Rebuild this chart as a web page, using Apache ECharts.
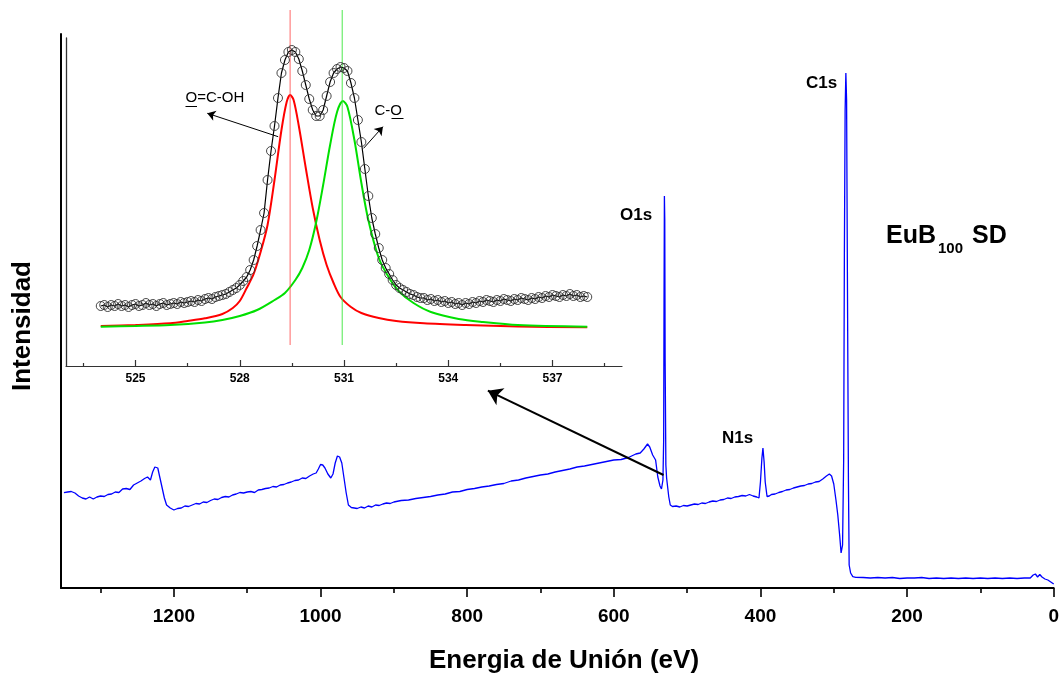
<!DOCTYPE html>
<html lang="es">
<head>
<meta charset="UTF-8">
<title>EuB100 SD - XPS</title>
<script src="https://cdn.jsdelivr.net/npm/echarts@6.0.0/dist/echarts.min.js"></script>
<style>
    html, body { margin: 0; padding: 0; background: #fff; }
    #main { width: 1062px; height: 679px; }
</style>
</head>
<body>
<div id="main"></div>
<script>
    // survey spectrum: [binding energy (eV), intensity (a.u.)]
    var surveyPoints = [
        [1350, 95.3], [1345, 96], [1340, 96.5], [1335, 95], [1330, 92], [1325, 90], [1320, 89], [1315, 91],
        [1310, 89], [1305, 91], [1300, 92], [1295, 91.5], [1290, 93.5], [1285, 94], [1280, 96], [1275, 95.5],
        [1270, 99], [1265, 99.5], [1260, 98.5], [1255, 103], [1250, 105], [1245, 107], [1240, 109.5], [1236, 111],
        [1232, 108], [1229, 116], [1226, 121], [1222, 120], [1219, 110], [1216, 100], [1213, 90], [1210, 83],
        [1205, 80], [1200, 78], [1195, 79.5], [1190, 80], [1185, 82], [1180, 81.5], [1175, 83], [1170, 84.5],
        [1165, 84], [1160, 86], [1155, 85.5], [1150, 87.5], [1145, 89], [1140, 88.5], [1135, 90.5], [1130, 91.5],
        [1125, 91], [1120, 93], [1115, 94], [1110, 95.5], [1105, 95], [1100, 96], [1095, 96.5], [1090, 95.5],
        [1085, 98], [1080, 98.5], [1075, 99.5], [1070, 100], [1065, 101.5], [1060, 101], [1055, 103], [1050, 103.5],
        [1045, 105], [1040, 106], [1035, 107.5], [1030, 108], [1025, 110], [1020, 109.5], [1015, 112], [1010, 114],
        [1006, 115], [1003, 119], [1000, 123.5], [997, 123], [994, 120], [990, 114], [986, 110], [983, 114],
        [980, 125], [977, 132], [974, 131], [971, 125], [968, 110], [965, 95], [962, 83], [958, 80.5],
        [954, 80], [950, 79.5], [945, 81], [940, 80], [935, 82], [930, 81], [925, 83], [920, 82.5],
        [915, 84], [910, 85], [905, 84.5], [900, 86], [890, 87.5], [880, 88], [870, 89.5], [860, 90.5],
        [850, 91.5], [840, 93], [830, 94], [820, 96], [810, 96.5], [800, 98.5], [790, 99.5], [780, 101],
        [770, 102], [760, 103.5], [750, 104.5], [740, 107], [730, 108], [720, 110], [710, 111.5], [700, 113],
        [690, 114], [680, 116], [670, 117.5], [660, 119], [650, 121], [640, 122], [630, 123.5], [620, 125],
        [610, 126.5], [600, 128], [590, 128.5], [580, 130.5], [570, 134], [564, 135], [559, 139], [554, 144],
        [551, 141], [547, 133], [543, 128], [540, 111], [537, 102], [535, 99], [533, 108], [532, 148],
        [531.5, 288], [531, 392], [530.5, 368], [530, 228], [529, 123], [528, 110], [527, 108], [525, 91],
        [523, 83], [520, 81.5], [515, 82], [510, 81], [505, 82.5], [500, 82], [495, 83], [490, 84],
        [485, 83.5], [480, 85], [475, 84.5], [470, 86], [465, 87], [460, 86.5], [455, 88], [450, 88.5],
        [445, 90], [440, 89.5], [435, 91], [430, 91.5], [425, 92.5], [420, 92], [415, 93.5], [410, 92],
        [405, 91], [402, 90], [400, 106], [398, 130], [396.6, 140], [395, 126], [393.5, 106], [391, 91.5],
        [388, 92], [385, 93.5], [380, 94], [375, 95.5], [370, 96.5], [365, 98], [360, 98.5], [355, 100],
        [350, 101], [345, 102], [340, 102.5], [335, 104], [330, 104.5], [325, 106], [320, 106.5], [315, 109],
        [310, 112], [306, 114], [303, 112], [300, 104], [297, 88], [294.5, 73], [292, 53], [290, 35],
        [288, 43], [286.5, 128], [285.5, 338], [284.5, 478], [283.5, 515], [282.5, 488], [281.5, 328], [280, 108],
        [279, 23], [277, 15], [274, 11.3], [270, 10.7], [260, 10.5], [250, 10], [240, 10.5], [230, 10],
        [220, 10.5], [210, 9.5], [200, 10], [190, 10], [180, 10.5], [170, 9.5], [160, 10], [150, 9.5],
        [140, 10], [130, 9.5], [120, 10], [110, 9.5], [100, 10], [90, 9.5], [80, 10], [70, 9.5],
        [60, 10], [50, 9.5], [40, 10], [32, 10], [28, 13], [25, 14], [22, 11], [19, 13.5],
        [16, 11], [12, 9], [8, 8], [4, 6], [0, 4]
    ];

    // O1s high resolution region, sampled every 0.1 eV from 524.0 eV
    var o1sStart = 524.0;
    var o1sStep = 0.1;
    var o1sCounts = [
        60, 61, 59, 61, 60, 62, 60, 61, 59, 61,
        62, 60, 61, 63, 61, 62, 60, 62, 63, 61,
        62, 63, 62, 64, 63, 64, 65, 64, 66, 65,
        67, 68, 67, 69, 70, 71, 72, 74, 76, 78,
        81, 85, 89, 96, 106, 120, 136, 153, 186, 215,
        240, 268, 293, 306, 314, 316, 314, 307, 295, 281,
        267, 256, 250, 250, 256, 270, 284, 293, 297, 299,
        298, 295, 283, 268, 246, 224, 197, 170, 148, 132,
        118, 106, 98, 92, 86, 81, 78, 76, 74, 72,
        71, 69, 68, 68, 66, 67, 65, 66, 64, 65,
        63, 64, 62, 63, 61, 63, 62, 64, 63, 65,
        64, 66, 65, 64, 66, 65, 67, 66, 65, 67,
        66, 68, 67, 66, 68, 67, 69, 68, 70, 69,
        71, 70, 69, 71, 70, 72, 70, 71, 69, 70,
        69
    ];

    // fitted components
    var fitOCOH = [
        [524.0, 40], [525.0, 41], [526.0, 42.7], [526.5, 45], [527.0, 47.7], [527.5, 52], [527.8, 58], [528.0, 65],
        [528.2, 78], [528.4, 92], [528.6, 114], [528.8, 141], [529.0, 186], [529.2, 236], [529.35, 264], [529.45, 271],
        [529.55, 266], [529.7, 240], [529.9, 198], [530.1, 158], [530.3, 126], [530.5, 101], [530.7, 83], [530.9, 69],
        [531.2, 59], [531.5, 53], [532.0, 48], [532.5, 45], [533.3, 42.7], [534.5, 41], [536.0, 39.5], [538.0, 38.7]
    ];
    var fitCO = [
        [524.0, 39.3], [525.0, 40], [526.0, 41], [527.0, 43.5], [527.5, 46], [528.0, 50], [528.5, 56], [529.0, 66],
        [529.3, 73], [529.6, 86], [529.8, 98], [530.0, 116], [530.2, 144], [530.4, 181], [530.6, 221], [530.8, 254],
        [530.97, 265], [531.1, 259], [531.3, 226], [531.5, 183], [531.7, 146], [532.0, 108], [532.3, 88], [532.6, 74],
        [533.0, 63], [533.5, 54], [534.3, 47], [535.0, 44], [536.0, 41], [538.0, 39.3]
    ];
    var peakCentres = [529.45, 530.95];
    var peakLineSpan = [21, 356];

    var mainMajor = [0, 200, 400, 600, 800, 1000, 1200];
    var mainMinor = [100, 300, 500, 700, 900, 1100, 1300];
    var insetMajor = [525, 528, 531, 534, 537];
    var insetMinor = [523.5, 526.5, 529.5, 532.5, 535.5, 538.5];

    var FONT = 'Liberation Sans, Arial, sans-serif';

    var o1sPoints = o1sCounts.map(function (v, i) {
        return [Number((o1sStart + i * o1sStep).toFixed(1)), v];
    });

    function vline(x) {
        return [[x, peakLineSpan[0]], [x, peakLineSpan[1]]];
    }

    function plain(v) {
        return String(v);
    }

    var chart = echarts.init(document.getElementById('main'));

    var option = {
        animation: false,
        backgroundColor: '#fff',
        grid: [
            {left: 61, right: 8, top: 34, bottom: 91},
            {left: 66, right: 440, top: 38, bottom: 313}
        ],
        xAxis: [
            {
                gridIndex: 0, type: 'value', min: 0, max: 1354, inverse: true, position: 'bottom',
                axisLine: {onZero: false, lineStyle: {color: '#000', width: 2}},
                axisTick: {customValues: mainMajor, length: 9, lineStyle: {color: '#000', width: 1.6}},
                axisLabel: {customValues: mainMajor, formatter: plain, margin: 19, fontSize: 19, fontWeight: 'bold', color: '#000', fontFamily: FONT},
                splitLine: {show: false}
            },
            {
                gridIndex: 0, type: 'value', min: 0, max: 1354, inverse: true, position: 'bottom',
                axisLine: {show: false, onZero: false},
                axisTick: {customValues: mainMinor, length: 5, lineStyle: {color: '#000', width: 1.6}},
                axisLabel: {show: false},
                splitLine: {show: false}
            },
            {
                gridIndex: 1, type: 'value', min: 523, max: 539, position: 'bottom',
                axisLine: {onZero: false, lineStyle: {color: '#333', width: 1.2}},
                axisTick: {customValues: insetMajor, inside: true, length: 6, lineStyle: {color: '#333', width: 1.2}},
                axisLabel: {customValues: insetMajor, formatter: plain, margin: 7, fontSize: 12, fontWeight: 'bold', color: '#000', fontFamily: FONT},
                splitLine: {show: false}
            },
            {
                gridIndex: 1, type: 'value', min: 523, max: 539, position: 'bottom',
                axisLine: {show: false, onZero: false},
                axisTick: {customValues: insetMinor, inside: true, length: 3, lineStyle: {color: '#333', width: 1.2}},
                axisLabel: {show: false},
                splitLine: {show: false}
            }
        ],
        yAxis: [
            {
                gridIndex: 0, type: 'value', min: 0, max: 554,
                axisLine: {show: true, onZero: false, lineStyle: {color: '#000', width: 2}},
                axisTick: {show: false}, axisLabel: {show: false}, splitLine: {show: false}
            },
            {
                gridIndex: 1, type: 'value', min: 0, max: 328,
                axisLine: {show: true, onZero: false, lineStyle: {color: '#333', width: 1.3}},
                axisTick: {show: false}, axisLabel: {show: false}, splitLine: {show: false}
            }
        ],
        series: [
            {
                name: 'survey', type: 'line', xAxisIndex: 0, yAxisIndex: 0,
                data: surveyPoints, showSymbol: false, symbol: 'none',
                lineStyle: {color: '#0000ff', width: 1.3}, itemStyle: {color: '#0000ff'},
                markLine: {
                    silent: true, symbol: ['none', 'arrow'], symbolSize: 14,
                    label: {show: false},
                    lineStyle: {color: '#000', width: 2, type: 'solid'},
                    data: [[{coord: [532.2, 113]}, {coord: [771.8, 197.3]}]]
                }
            },
            {
                name: 'O=C-OH', type: 'line', xAxisIndex: 2, yAxisIndex: 1,
                data: fitOCOH, symbol: 'none', smooth: 0.3,
                lineStyle: {color: '#ff0000', width: 2}, itemStyle: {color: '#ff0000'}
            },
            {
                name: 'C-O', type: 'line', xAxisIndex: 2, yAxisIndex: 1,
                data: fitCO, symbol: 'none', smooth: 0.3,
                lineStyle: {color: '#00e000', width: 2}, itemStyle: {color: '#00e000'}
            },
            {
                name: 'line1', type: 'line', xAxisIndex: 2, yAxisIndex: 1, clip: false,
                data: vline(peakCentres[0]), symbol: 'none',
                lineStyle: {color: 'rgba(255,60,60,0.6)', width: 1.3}
            },
            {
                name: 'line2', type: 'line', xAxisIndex: 2, yAxisIndex: 1, clip: false,
                data: vline(peakCentres[1]), symbol: 'none',
                lineStyle: {color: 'rgba(60,230,60,0.7)', width: 1.3}
            },
            {
                name: 'O1s', type: 'line', xAxisIndex: 2, yAxisIndex: 1,
                data: o1sPoints, symbol: 'circle', symbolSize: 9,
                lineStyle: {color: '#000', width: 1.2},
                itemStyle: {color: 'rgba(255,255,255,0)', borderColor: '#333', borderWidth: 0.9},
                markLine: {
                    silent: true, symbol: ['none', 'arrow'], symbolSize: 8,
                    label: {show: false},
                    lineStyle: {color: '#000', width: 1, type: 'solid'},
                    data: [
                        [{coord: [529.106, 229.3]}, {coord: [527.066, 252.7]}],
                        [{coord: [531.564, 217.7]}, {coord: [532.12, 239.3]}]
                    ]
                }
            }
        ],
        graphic: [
            {type: 'text', x: 23, y: 326, rotation: Math.PI / 2,
                style: {text: 'Intensidad', font: 'bold 26px ' + FONT, fill: '#000', align: 'center', verticalAlign: 'middle'}},
            {type: 'text', x: 564, y: 661,
                style: {text: 'Energia de Unión (eV)', font: 'bold 26px ' + FONT, fill: '#000', align: 'center', verticalAlign: 'middle'}},
            {type: 'text', x: 620, y: 215,
                style: {text: 'O1s', font: 'bold 17px ' + FONT, fill: '#000', align: 'left', verticalAlign: 'middle'}},
            {type: 'text', x: 806, y: 83,
                style: {text: 'C1s', font: 'bold 17px ' + FONT, fill: '#000', align: 'left', verticalAlign: 'middle'}},
            {type: 'text', x: 722, y: 438,
                style: {text: 'N1s', font: 'bold 17px ' + FONT, fill: '#000', align: 'left', verticalAlign: 'middle'}},
            {type: 'text', x: 886, y: 236,
                style: {text: 'EuB', font: 'bold 25px ' + FONT, fill: '#000', align: 'left', verticalAlign: 'middle'}},
            {type: 'text', x: 938, y: 249,
                style: {text: '100', font: 'bold 15px ' + FONT, fill: '#000', align: 'left', verticalAlign: 'middle'}},
            {type: 'text', x: 972, y: 236,
                style: {text: 'SD', font: 'bold 25px ' + FONT, fill: '#000', align: 'left', verticalAlign: 'middle'}},
            {type: 'text', x: 185.5, y: 98,
                style: {text: 'O=C-OH', font: '15px ' + FONT, fill: '#000', align: 'left', verticalAlign: 'middle'}},
            {type: 'line', shape: {x1: 185.5, y1: 106.5, x2: 197, y2: 106.5}, style: {stroke: '#000', lineWidth: 1}},
            {type: 'text', x: 374.5, y: 111,
                style: {text: 'C-O', font: '15px ' + FONT, fill: '#000', align: 'left', verticalAlign: 'middle'}},
            {type: 'line', shape: {x1: 391.5, y1: 118.5, x2: 403.5, y2: 118.5}, style: {stroke: '#000', lineWidth: 1}}
        ]
    };

    chart.setOption(option);
</script>
</body>
</html>
